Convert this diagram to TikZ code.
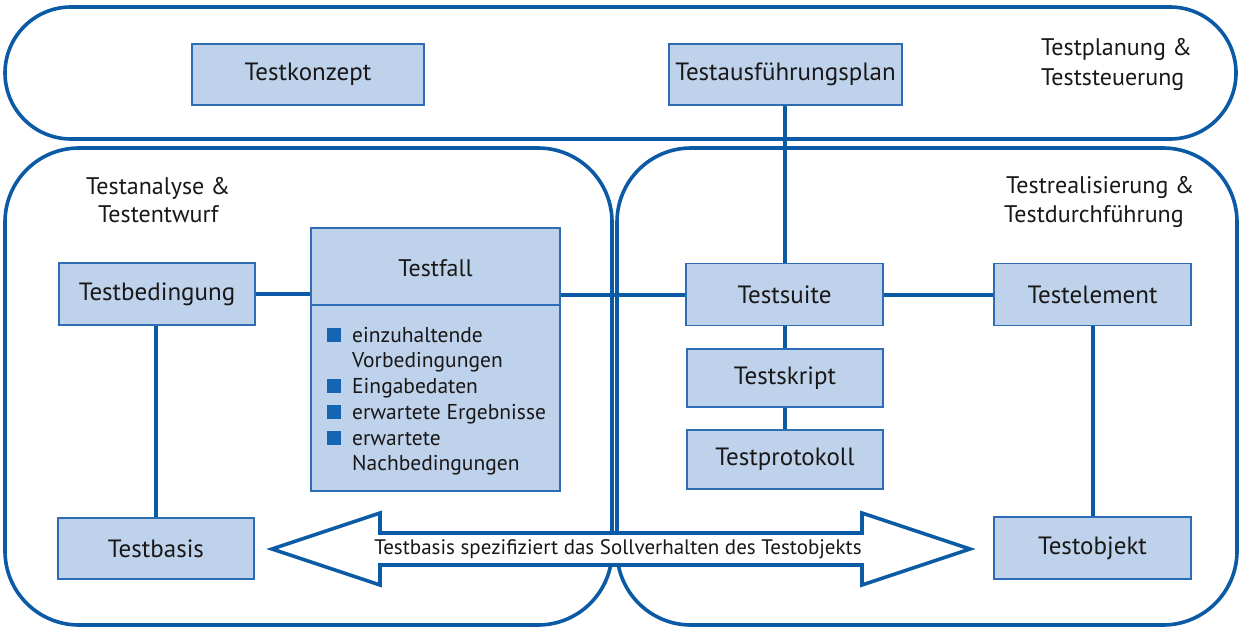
\documentclass[tikz,border=0pt]{standalone}
\usepackage{fontspec}
\setmainfont{PT Sans}
\definecolor{dblue}{HTML}{0B5AA6}
\definecolor{bblue}{HTML}{2E6DB3}
\definecolor{bfill}{HTML}{BED3EB}
\definecolor{txt}{HTML}{1A1718}
\definecolor{bullet}{HTML}{1565B4}
\tikzset{
  region/.style={draw=dblue, line width=3.6pt},
  box/.style={draw=bblue, fill=bfill, line width=1.3pt, inner sep=0pt, text=txt,
    font=\fontsize{25}{29}\selectfont},
  conn/.style={draw=dblue, line width=4pt},
  lbl/.style={anchor=base west, inner sep=0pt, text=txt, font=\fontsize{24}{28}\selectfont},
  item/.style={anchor=base west, inner sep=0pt, text=txt, font=\fontsize{21.5}{25}\selectfont},
  bulletsq/.style={fill=bullet}
}
\begin{document}
\begin{tikzpicture}[x=1pt,y=-1pt]
\useasboundingbox (0,0) rectangle (1245,632);
\fill[white] (0,0) rectangle (1245,632);
% regions
\draw[region, rounded corners=66pt] (5,7) rectangle (1236,139);
\draw[region, rounded corners=74pt] (5,148) rectangle (612,625);
\draw[region, rounded corners=74pt] (617,148) rectangle (1237,625);
% region labels
\node[lbl] (lp1) at (1041,55) {Testplanung \&};
\node[lbl] (lp2) at (1041,85) {Teststeuerung};
\node[lbl] (la1) at (86,194) {Testanalyse \&};
\node[lbl] (la2) at (98,222) {Testentwurf};
\node[lbl] (lr1) at (1006,193) {Testrealisierung \&};
\node[lbl] (lr2) at (1004,222) {Testdurchführung};
% boxes
\node[box, minimum width=232pt, minimum height=61pt] (konzept) at (308,74.5) {Testkonzept};
\node[box, minimum width=233pt, minimum height=61pt] (plan) at (785.5,74.5) {Testausführungsplan};
\node[box, minimum width=196pt, minimum height=62pt] (bedingung) at (157,294) {Testbedingung};
\node[box, minimum width=249pt, minimum height=263pt] (testfall) at (435.5,359.5) {};
\node[box, minimum width=197pt, minimum height=62pt] (suite) at (784.5,294.5) {Testsuite};
\node[box, minimum width=196pt, minimum height=58pt] (skript) at (785,378) {Testskript};
\node[box, minimum width=196pt, minimum height=59pt] (protokoll) at (785,459.5) {Testprotokoll};
\node[box, minimum width=197pt, minimum height=62pt] (element) at (1092.5,294.5) {Testelement};
\node[box, minimum width=197pt, minimum height=62pt] (objekt) at (1092.5,548) {Testobjekt};
\node[box, minimum width=196pt, minimum height=61pt] (basis) at (156,548.5) {Testbasis};
% Testfall content
\draw[draw=bblue, line width=1.3pt] (testfall.west |- 0,305) -- (testfall.east |- 0,305);
\node[text=txt, font=\fontsize{24}{28}\selectfont, inner sep=0pt] (tftitle) at (435.5,268) {Testfall};
\fill[bulletsq] (327,328) rectangle (341,342);
\node[item] (i1) at (352,342) {einzuhaltende};
\node[item] (i1b) at (352,367.5) {Vorbedingungen};
\fill[bulletsq] (327,379) rectangle (341,393);
\node[item] (i2) at (352,393) {Eingabedaten};
\fill[bulletsq] (327,405) rectangle (341,419);
\node[item] (i3) at (352,419) {erwartete Ergebnisse};
\fill[bulletsq] (327,431) rectangle (341,445);
\node[item] (i4) at (352,445) {erwartete};
\node[item] (i4b) at (352,470) {Nachbedingungen};
% connectors
\draw[conn] (bedingung.east) -- (testfall.west |- bedingung.east);
\draw[conn] (testfall.east |- suite.west) -- (suite.west);
\draw[conn] (suite.east) -- (element.west);
\draw[conn] (plan.south -| suite.north) -- (suite.north);
\draw[conn] (suite.south) -- (skript.north -| suite.south);
\draw[conn] (skript.south) -- (protokoll.north);
\draw[conn] (basis.north -| 156,0) -- (bedingung.south -| 156,0);
\draw[conn] (element.south) -- (objekt.north);
% double arrow
\draw[draw=dblue, fill=white, line width=3.6pt, line join=miter]
  (272,549) -- (380,513) -- (380,533) -- (862,533) -- (862,513) -- (970,549)
  -- (862,585) -- (862,565) -- (380,565) -- (380,585) -- cycle;
\node[text=txt, font=\fontsize{21}{25}\selectfont, inner sep=0pt] (arrowtext) at (618,549)
  {Testbasis spezifiziert das Sollverhalten des Testobjekts};
\end{tikzpicture}
\end{document}
